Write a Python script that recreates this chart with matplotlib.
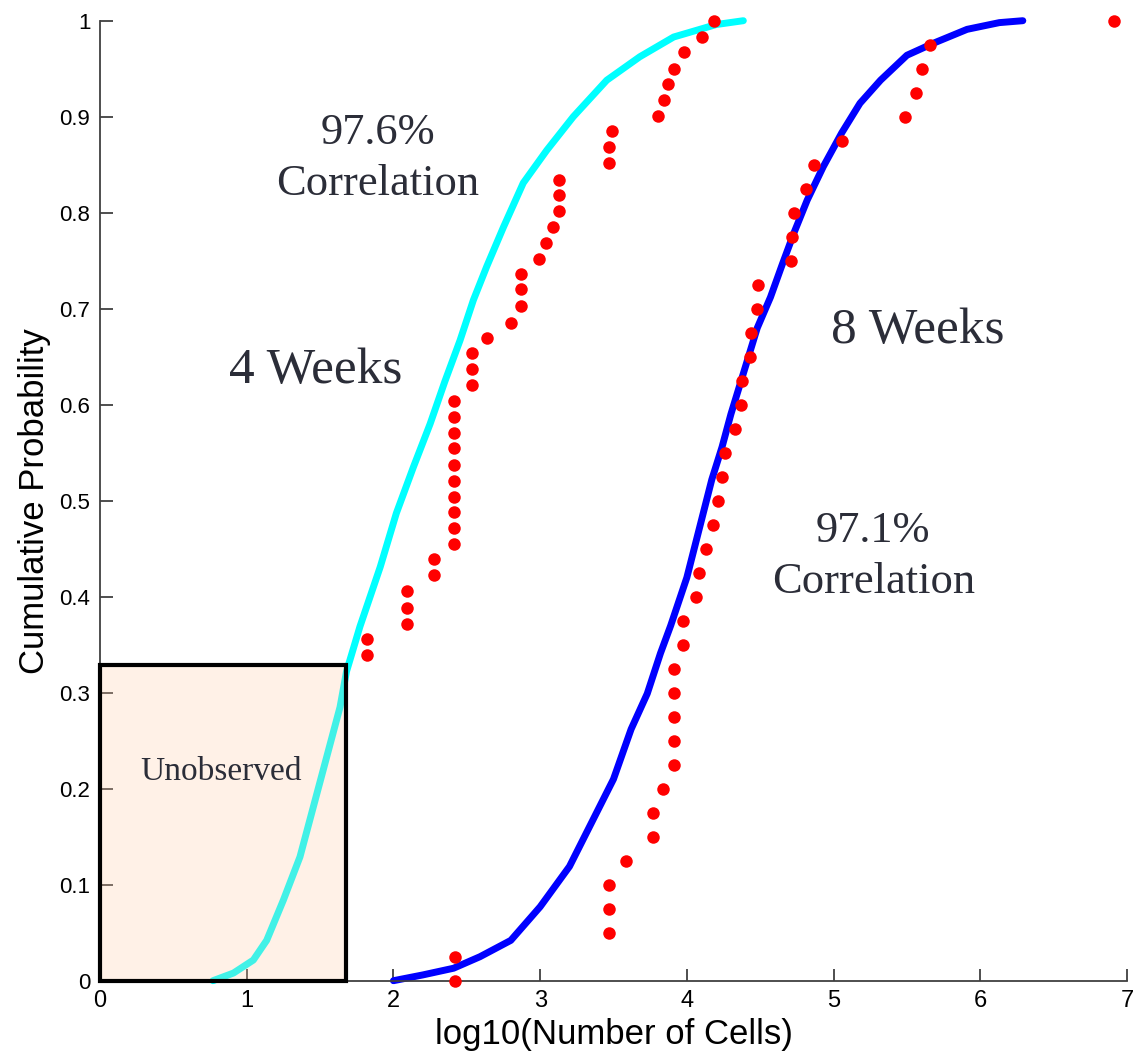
import matplotlib
matplotlib.use('Agg')
import matplotlib.pyplot as plt
import matplotlib.patches as patches

# fitted CDF curves (log10 cell counts)
fit4_x = [0.77, 0.91, 1.045, 1.136, 1.25, 1.363, 1.454, 1.545, 1.636, 1.68, 1.772, 1.91,
          2.02, 2.136, 2.25, 2.35, 2.454, 2.545, 2.636, 2.75, 2.885, 3.045, 3.226, 3.454,
          3.68, 3.91, 4.2, 4.385]
fit4_y = [0.0, 0.008, 0.0215, 0.042, 0.084, 0.129, 0.181, 0.233, 0.285, 0.322, 0.369, 0.431,
          0.487, 0.535, 0.58, 0.624, 0.667, 0.709, 0.744, 0.785, 0.831, 0.865, 0.900, 0.938,
          0.9625, 0.983, 0.996, 1.0]

fit8_x = [2.0, 2.2, 2.41, 2.59, 2.8, 3.0, 3.2, 3.5, 3.62, 3.73, 3.82, 3.89, 4.0, 4.10,
          4.17, 4.24, 4.30, 4.37, 4.43, 4.48, 4.57, 4.65, 4.73, 4.82, 4.93, 5.055, 5.18,
          5.32, 5.50, 5.68, 5.91, 6.13, 6.29]
fit8_y = [0.0, 0.006, 0.013, 0.025, 0.042, 0.077, 0.119, 0.21, 0.262, 0.299, 0.341, 0.37,
          0.42, 0.48, 0.522, 0.556, 0.59, 0.625, 0.655, 0.68, 0.712, 0.746, 0.779, 0.813,
          0.848, 0.883, 0.914, 0.938, 0.964, 0.9765, 0.991, 0.998, 1.0]

# observed data
obs4_x = [1.82, 1.82, 2.09, 2.09, 2.09, 2.274, 2.274,
          2.415, 2.415, 2.415, 2.415, 2.415, 2.415, 2.415, 2.415, 2.415, 2.415,
          2.535, 2.535, 2.535, 2.64, 2.80, 2.87, 2.87, 2.87, 2.99, 3.04, 3.085,
          3.13, 3.13, 3.13, 3.47, 3.47, 3.49, 3.80, 3.845, 3.87, 3.915, 3.98, 4.10, 4.186]
obs4_y = [0.339, 0.356, 0.372, 0.388, 0.406, 0.423, 0.439, 0.455, 0.472, 0.488, 0.504,
          0.521, 0.537, 0.555, 0.571, 0.587, 0.604, 0.620, 0.637, 0.654, 0.669, 0.685,
          0.703, 0.720, 0.736, 0.752, 0.768, 0.785, 0.802, 0.818, 0.834, 0.852, 0.868,
          0.885, 0.901, 0.917, 0.934, 0.950, 0.967, 0.983, 1.0]

obs8_x = [2.42, 2.42, 3.47, 3.47, 3.47, 3.585, 3.77, 3.77, 3.84,
          3.915, 3.915, 3.915, 3.915, 3.915, 3.975, 3.975, 4.06, 4.08, 4.13, 4.18,
          4.215, 4.24, 4.26, 4.33, 4.37, 4.375, 4.43, 4.44, 4.475, 4.485, 4.71, 4.72,
          4.73, 4.815, 4.87, 5.055, 5.49, 5.56, 5.60, 5.66, 6.91]
obs8_y = [0.0, 0.025, 0.05, 0.075, 0.1, 0.125, 0.15, 0.175, 0.2, 0.225, 0.25, 0.275,
          0.3, 0.325, 0.35, 0.375, 0.4, 0.425, 0.45, 0.475, 0.5, 0.525, 0.55, 0.575,
          0.6, 0.625, 0.65, 0.675, 0.7, 0.725, 0.75, 0.775, 0.8, 0.825, 0.85, 0.875,
          0.9, 0.925, 0.95, 0.975, 1.0]

unobs_w, unobs_h = 1.68, 0.329

x_ticks = [0, 1, 2, 3, 4, 5, 6, 7]
y_ticks = [0, 0.1, 0.2, 0.3, 0.4, 0.5, 0.6, 0.7, 0.8, 0.9, 1.0]
y_tick_labels = ['0', '0.1', '0.2', '0.3', '0.4', '0.5', '0.6', '0.7', '0.8', '0.9', '1']

sans = 'Liberation Sans'
serif = 'Liberation Serif'
txt_color = '#2b2d38'
axis_color = '#404040'

fig = plt.figure(figsize=(11.39, 10.53), dpi=100)
ax = fig.add_axes([100 / 1139, 72.3 / 1053, 1027 / 1139, 960 / 1053])

ax.plot(fit4_x, fit4_y, color='#00ffff', lw=5, solid_capstyle='round', solid_joinstyle='round',
        clip_on=False, zorder=2)
ax.plot(fit8_x, fit8_y, color='#0000ff', lw=5, solid_capstyle='round', solid_joinstyle='round',
        clip_on=False, zorder=2)

# shaded "unobserved" region, tinted over the curve, then its outline
ax.add_patch(patches.Rectangle((0, 0), unobs_w, unobs_h, facecolor=(1.0, 0.79, 0.65),
                               alpha=0.26, edgecolor='none', zorder=3, clip_on=False))
ax.add_patch(patches.Rectangle((0, 0), unobs_w, unobs_h, fill=False, edgecolor='black',
                               lw=3, zorder=3.5, clip_on=False))

ax.plot(obs4_x, obs4_y, 'o', color='red', ms=9, mec='none', clip_on=False, zorder=4)
ax.plot(obs8_x, obs8_y, 'o', color='red', ms=9, mec='none', clip_on=False, zorder=4)

ax.text(1.895, 0.8716, '97.6%', family=serif, fontsize=32, color=txt_color, ha='center', va='baseline')
ax.text(1.895, 0.8185, 'Correlation', family=serif, fontsize=32, color=txt_color, ha='center', va='baseline')
ax.text(1.469, 0.6226, '4 Weeks', family=serif, fontsize=37, color=txt_color, ha='center', va='baseline')
ax.text(5.576, 0.6646, '8 Weeks', family=serif, fontsize=37, color=txt_color, ha='center', va='baseline')
ax.text(5.27, 0.4573, '97.1%', family=serif, fontsize=32, color=txt_color, ha='center', va='baseline')
ax.text(5.276, 0.4035, 'Correlation', family=serif, fontsize=32, color=txt_color, ha='center', va='baseline')
ax.text(0.826, 0.209, 'Unobserved', family=serif, fontsize=24, color=txt_color, ha='center', va='baseline', zorder=5)

ax.set_xlim(0, 7)
ax.set_ylim(0, 1)
ax.set_xticks(x_ticks)
ax.set_xticklabels([str(t) for t in x_ticks], family=sans, fontsize=17)
ax.set_yticks(y_ticks)
ax.set_yticklabels(y_tick_labels, family=sans, fontsize=16)
ax.tick_params(direction='in', length=9, width=1.3, color=axis_color, pad=7)

for side in ['top', 'right']:
    ax.spines[side].set_visible(False)
for side in ['left', 'bottom']:
    ax.spines[side].set_color(axis_color)
    ax.spines[side].set_linewidth(1.3)

ax.set_xlabel('log10(Number of Cells)', family=sans, fontsize=25, labelpad=4)
ax.set_ylabel('Cumulative Probability', family=sans, fontsize=25, labelpad=6)

fig.savefig('out.png', dpi=100)
